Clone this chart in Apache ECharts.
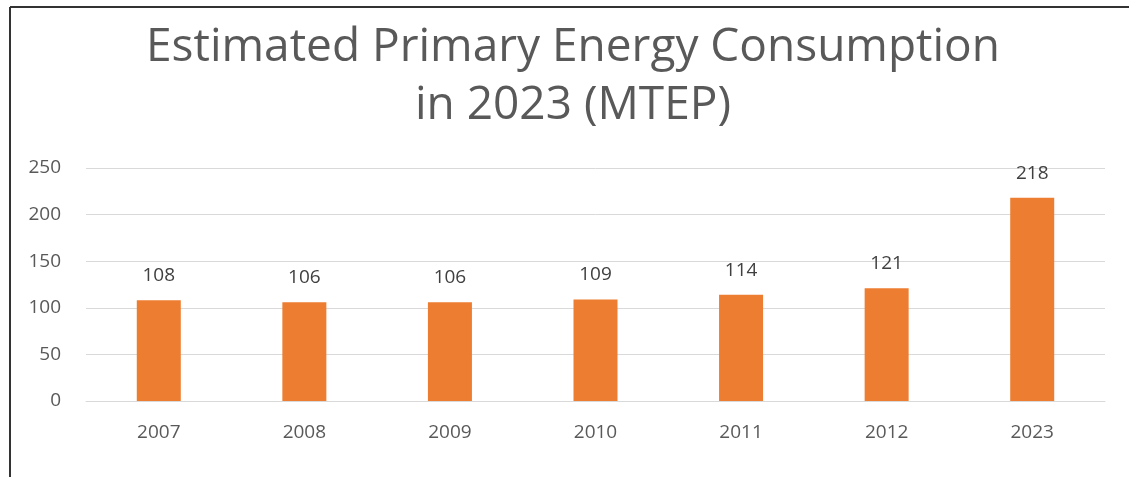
<!DOCTYPE html>
<html>
<head>
<meta charset="utf-8">
<script src="https://cdn.jsdelivr.net/npm/echarts@6/dist/echarts.min.js"></script>
<style>
  html, body { margin: 0; padding: 0; background: #fff; }
  #chart { width: 1129px; height: 477px; }
</style>
</head>
<body>
<div id="chart"></div>
<script>
// Primary energy consumption by year (MTEP)
const years = ['2007', '2008', '2009', '2010', '2011', '2012', '2023'];
const consumption = [108, 106, 106, 109, 114, 121, 218];
const yTicks = { min: 0, max: 250, interval: 50 };

const chart = echarts.init(document.getElementById('chart'));
const font = '"Open Sans", "Noto Sans", sans-serif';

chart.setOption({
  backgroundColor: '#ffffff',
  animation: false,
  title: {
    text: 'Estimated Primary Energy Consumption\nin 2023 (MTEP)',
    left: 568,
    textAlign: 'center',
    top: 14,
    textStyle: {
      fontFamily: font,
      fontSize: 46,
      fontWeight: 'normal',
      color: '#595959',
      lineHeight: 58
    }
  },
  grid: { left: 86, right: 24, top: 168, bottom: 76 },
  xAxis: {
    type: 'category',
    data: years,
    axisLine: { lineStyle: { color: '#d9d9d9', width: 1 } },
    axisTick: { show: false },
    axisLabel: { color: '#595959', fontFamily: font, fontSize: 19, margin: 22 }
  },
  yAxis: {
    type: 'value',
    min: yTicks.min,
    max: yTicks.max,
    interval: yTicks.interval,
    axisLine: { show: false },
    axisTick: { show: false },
    axisLabel: { color: '#595959', fontFamily: font, fontSize: 19, margin: 25 },
    splitLine: { lineStyle: { color: '#d9d9d9', width: 1 } }
  },
  series: [{
    type: 'bar',
    data: consumption,
    barWidth: 44,
    itemStyle: { color: '#ED7D31' },
    label: {
      show: true,
      position: 'top',
      distance: 15,
      color: '#404040',
      fontFamily: font,
      fontSize: 19
    }
  }],
  graphic: [
    { type: 'line', shape: { x1: 10, y1: 7, x2: 1129, y2: 7 },
      style: { stroke: '#333', lineWidth: 2 } },
    { type: 'line', shape: { x1: 10, y1: 7, x2: 10, y2: 477 },
      style: { stroke: '#333', lineWidth: 2 } }
  ]
});
</script>
</body>
</html>
